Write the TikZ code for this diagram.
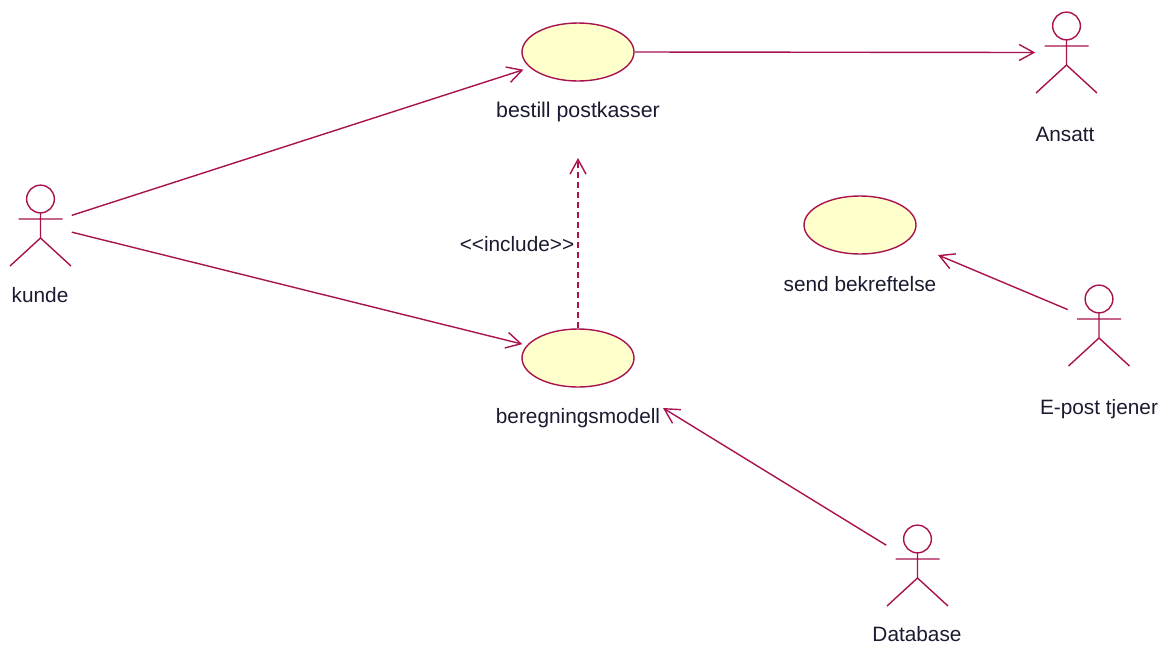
\documentclass[tikz,border=0pt]{standalone}
\usepackage{fontspec}
\setmainfont{Liberation Sans}
\usetikzlibrary{arrows.meta,shapes.geometric}
\definecolor{umlline}{HTML}{A8124E}
\definecolor{umlfill}{HTML}{FFFFCB}
\definecolor{umltext}{HTML}{1A1A30}
\tikzset{
  umlstroke/.style={draw=umlline,line width=1.05pt},
  usecase/.style={ellipse,umlstroke,fill=umlfill,minimum width=84pt,minimum height=43.5pt,inner sep=0pt},
  label/.style={text=umltext,font=\fontsize{15.6pt}{18pt}\selectfont,inner sep=0pt},
  actorbox/.style={rectangle,draw=none,inner sep=0pt,minimum width=46.5pt,minimum height=61.5pt},
  assoc/.style={umlstroke,-{Straight Barb[length=11pt,width=12pt,line width=1.05pt]}},
  incl/.style={assoc,dash pattern=on 4.5pt off 3pt}
}
\newcommand{\umlactor}[3]{%
  \node[actorbox] (#1) at (#2,#3+26.5) {};
  \draw[umlstroke] (#2,#3) circle[radius=10.4pt];
  \draw[umlstroke] (#2,#3+14) -- (#2,#3+39)
    (#2-22,#3+20) -- (#2+22,#3+20)
    (#2-30.5,#3+67) -- (#2,#3+39) -- (#2+30.5,#3+67);
}
\begin{document}
\begin{tikzpicture}[x=0.75pt,y=-0.75pt]
\useasboundingbox (0,0) rectangle (1167,644);
\umlactor{kunde}{40.5}{199}
\umlactor{ansatt}{1066.5}{26}
\umlactor{epost}{1099}{299}
\umlactor{database}{917.5}{539}
\node[usecase] (bestill) at (578,52) {};
\node[usecase] (beregning) at (578,358) {};
\node[usecase] (send) at (860,225) {};
\node[label] (lkunde) at (40,295) {kunde};
\node[label] (lansatt) at (1065,134) {Ansatt};
\node[label] (lepost) at (1099,409) {E-post tjener};
\node[label] (ldatabase) at (917,634) {Database};
\node[label] (lbestill) at (578,112) {\fontsize{16pt}{18pt}\selectfont bestill postkasser};
\node[label] (lberegning) at (578,418) {beregningsmodell};
\node[label] (lsend) at (860,284) {send bekreftelse};
\node[label] (linclude) at (517,244) {<{}<include>{}>};
\coordinate (inclEnd) at (578,158);
\coordinate (sendEnd) at (938,255);
\coordinate (beregnEnd) at (663,408);
\draw[assoc,shorten >=5pt] (kunde.18) -- (bestill.198);
\draw[assoc,shorten >=3.5pt] (kunde.-12) -- (beregning.166);
\draw[assoc] (bestill.east) -- (ansatt.west);
\draw[incl] (beregning.north) -- (inclEnd);
\draw[assoc] (epost.153) -- (sendEnd);
\draw[assoc] (database.147) -- (beregnEnd);
\end{tikzpicture}
\end{document}
